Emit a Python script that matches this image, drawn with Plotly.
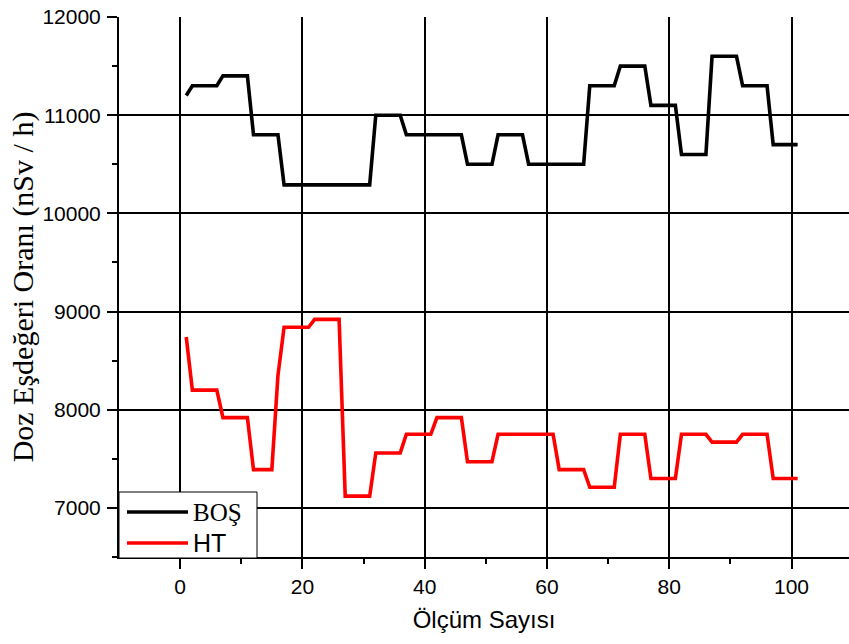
import plotly.graph_objects as go

# Measurement index
olcum = list(range(1, 102))

# BOŞ series (flat runs)
bos_runs = [
    (1, 1, 11200), (2, 6, 11300), (7, 11, 11400), (12, 16, 10800),
    (17, 31, 10290), (32, 36, 11000), (37, 46, 10800), (47, 51, 10500),
    (52, 56, 10800), (57, 66, 10500), (67, 71, 11300), (72, 76, 11500),
    (77, 81, 11100), (82, 86, 10600), (87, 91, 11600), (92, 96, 11300),
    (97, 101, 10700),
]
# HT series
ht_runs = [
    (1, 1, 8740), (2, 6, 8200), (7, 11, 7920), (12, 15, 7390),
    (16, 16, 8350), (17, 21, 8840), (22, 26, 8920), (27, 31, 7120),
    (32, 36, 7560), (37, 41, 7750), (42, 46, 7920), (47, 51, 7470),
    (52, 61, 7750), (62, 66, 7390), (67, 71, 7210), (72, 76, 7750),
    (77, 81, 7300), (82, 86, 7750), (87, 91, 7670), (92, 96, 7750),
    (97, 101, 7300),
]

series_names = ["BOŞ", "HT"]
series_colors = ["black", "#ff0000"]


def expand(runs):
    vals = []
    for a, b, v in runs:
        vals += [v] * (b - a + 1)
    return vals


bos = expand(bos_runs)
ht = expand(ht_runs)

x_ticks = [0, 20, 40, 60, 80, 100]
y_ticks = [7000, 8000, 9000, 10000, 11000, 12000]

fig = go.Figure()
for name, vals, col in zip(series_names, [bos, ht], series_colors):
    fig.add_trace(go.Scatter(x=olcum, y=vals, mode="lines", name=name,
                             line=dict(color=col, width=3.6), showlegend=False))

W, H = 849, 644
ML, MT, MB = 119, 17, 87
PW, PH = W - ML, H - MT - MB


def px(p):  # pixel x -> paper
    return (p - ML) / PW


def py(p):  # pixel y -> paper
    return (H - MB - p) / PH


# Legend box drawn as shapes/annotations to match the original's compact box
shapes = [dict(type="rect", xref="paper", yref="paper", layer="above",
               x0=px(119), x1=px(257), y0=py(558), y1=py(492),
               fillcolor="white", line=dict(color="black", width=1))]
annotations = []
legend_rows = [512, 543]
legend_fonts = ["Liberation Serif", "Liberation Sans"]
for name, col, yy, fam in zip(series_names, series_colors, legend_rows, legend_fonts):
    shapes.append(dict(type="line", xref="paper", yref="paper", layer="above",
                       x0=px(127), x1=px(188), y0=py(yy), y1=py(yy),
                       line=dict(color=col, width=3.6)))
    annotations.append(dict(xref="paper", yref="paper", x=px(191), y=py(yy),
                            xanchor="left", yanchor="middle", showarrow=False,
                            text=name,
                            font=dict(family=fam, size=25, color="black")))

fig.update_layout(
    width=W, height=H,
    margin=dict(l=ML, r=0, t=MT, b=MB),
    paper_bgcolor="white", plot_bgcolor="white",
    showlegend=False,
    shapes=shapes, annotations=annotations,
    font=dict(family="Liberation Sans", color="black"),
)

fig.update_xaxes(
    range=[-10, 109.4], tickvals=x_ticks, ticktext=[str(v) for v in x_ticks],
    automargin=False,
    showgrid=True, gridcolor="black", gridwidth=2,
    showline=True, linecolor="black", linewidth=2,
    ticks="outside", ticklen=10, tickwidth=2, tickcolor="black",
    minor=dict(tickvals=[10, 30, 50, 70, 90], ticks="outside", ticklen=5,
               tickwidth=2, tickcolor="black", showgrid=False),
    tickfont=dict(family="Liberation Sans", size=21, color="black"),
    title=dict(text="Ölçüm Sayısı", standoff=14,
               font=dict(family="Liberation Sans", size=24, color="black")),
    zeroline=False,
)
fig.update_yaxes(
    range=[6500, 12000], tickvals=y_ticks, ticktext=[str(v) for v in y_ticks],
    automargin=False, ticklabeloverflow="allow",
    showgrid=True, gridcolor="black", gridwidth=2,
    showline=True, linecolor="black", linewidth=2,
    ticks="outside", ticklen=10, tickwidth=2, tickcolor="black",
    minor=dict(tickvals=[6500, 7500, 8500, 9500, 10500, 11500], ticks="outside",
               ticklen=5, tickwidth=2, tickcolor="black", showgrid=False),
    tickfont=dict(family="Liberation Sans", size=21, color="black"),
    ticklabelstandoff=2,
    title=dict(text="Doz Eşdeğeri Oranı (nSv / h)", standoff=0,
               font=dict(family="Liberation Serif", size=30, color="black")),
    zeroline=False,
)

fig.write_html("out.html",
               config={"displayModeBar": False},
               post_script="document.body.style.margin='0';"
                           "document.body.style.overflow='hidden';")
